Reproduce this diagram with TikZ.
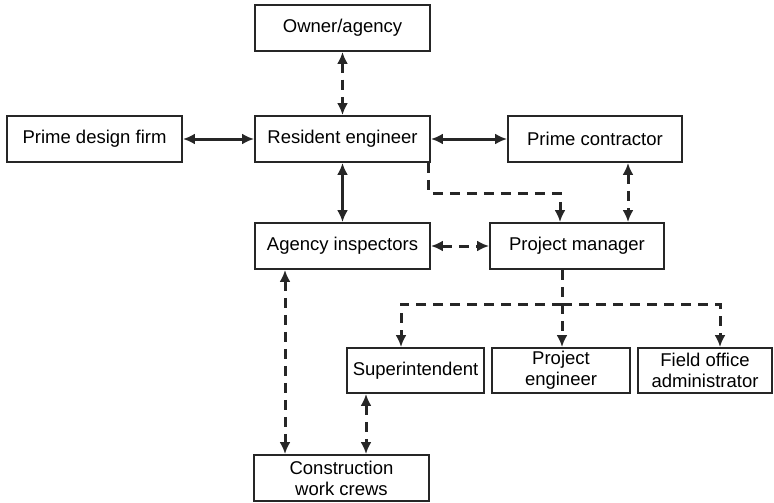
\documentclass[tikz,border=0pt]{standalone}
\usepackage{fontspec}
\setmainfont{Liberation Sans}
\usepackage{tikz}
\usetikzlibrary{arrows.meta}

\begin{document}
\begin{tikzpicture}[x=1pt,y=-1pt]
\tikzset{
  box/.style={draw=black!85, line width=1.9pt, minimum width=175pt, minimum height=46pt,
              inner sep=0pt, align=center, font=\fontsize{18.5}{21}\selectfont},
  solidlink/.style={draw=black!85, line width=3pt, {Latex[length=12pt,width=11pt]}-{Latex[length=12pt,width=11pt]}},
  dashlink/.style={draw=black!85, line width=3pt, dash pattern=on 10pt off 7pt},
  tip/.style={-{Latex[length=12pt,width=11pt]}},
  twotips/.style={{Latex[length=12pt,width=11pt]}-{Latex[length=12pt,width=11pt]}}
}
\useasboundingbox (0,0) rectangle (774,503);

% Boxes:
\node [box] (owner) at (342.5,28) {Owner/agency};
\node [box] (design) at (94.5,139) {Prime design firm};
\node [box] (resident) at (342.5,139) {Resident engineer};
\node [box, minimum width=174pt] (contractor) at (595,139) {Prime contractor};
\node [box] (inspectors) at (342.5,246) {Agency inspectors};
\node [box, minimum width=174pt] (manager) at (577,246) {Project manager};
\node [box, minimum width=137pt, minimum height=45pt] (super) at (415.5,370.5) {Superintendent};
\node [box, minimum width=138pt, minimum height=45pt] (projeng) at (561,370.5) {Project\\engineer};
\node [box, minimum width=134pt, minimum height=45pt] (fieldoff) at (705,370.5) {Field office\\administrator};
\node [box] (crews) at (341.5,478) {Construction\\work crews};

% Solid links
\draw [solidlink] (design) -- (resident);
\draw [solidlink] (resident) -- (contractor);
\draw [solidlink] (resident) -- (inspectors);

% Dashed links
\draw [dashlink, twotips] (owner) -- (resident);
\draw [dashlink, tip] ([xshift=-2pt]resident.south east) |- (560,193) -- ([xshift=-17pt]manager.north);
\draw [dashlink, twotips] ([xshift=33pt]contractor.south) -- ([xshift=51pt]manager.north);
\draw [dashlink, twotips] (inspectors) -- (manager);
\draw [dashlink, twotips] ([xshift=-57.5pt]inspectors.south) -- ([xshift=-56.5pt]crews.north);
\draw [dashlink, twotips] ([xshift=-49.5pt]super.south) -- ([xshift=24.5pt]crews.north);

% Branch under the project manager
\coordinate (split) at (562,304);
\coordinate (branchl) at (401,304);
\coordinate (branchr) at (720,304);
\draw [dashlink] ([xshift=-15pt]manager.south) -- (split);
\draw [dashlink, tip] (split) -- (split |- projeng.north);
\draw [dashlink, tip] (split) -- (branchl) -- (branchl |- super.north);
\draw [dashlink, tip] (split) -- (branchr) -- (branchr |- fieldoff.north);

\end{tikzpicture}
\end{document}
